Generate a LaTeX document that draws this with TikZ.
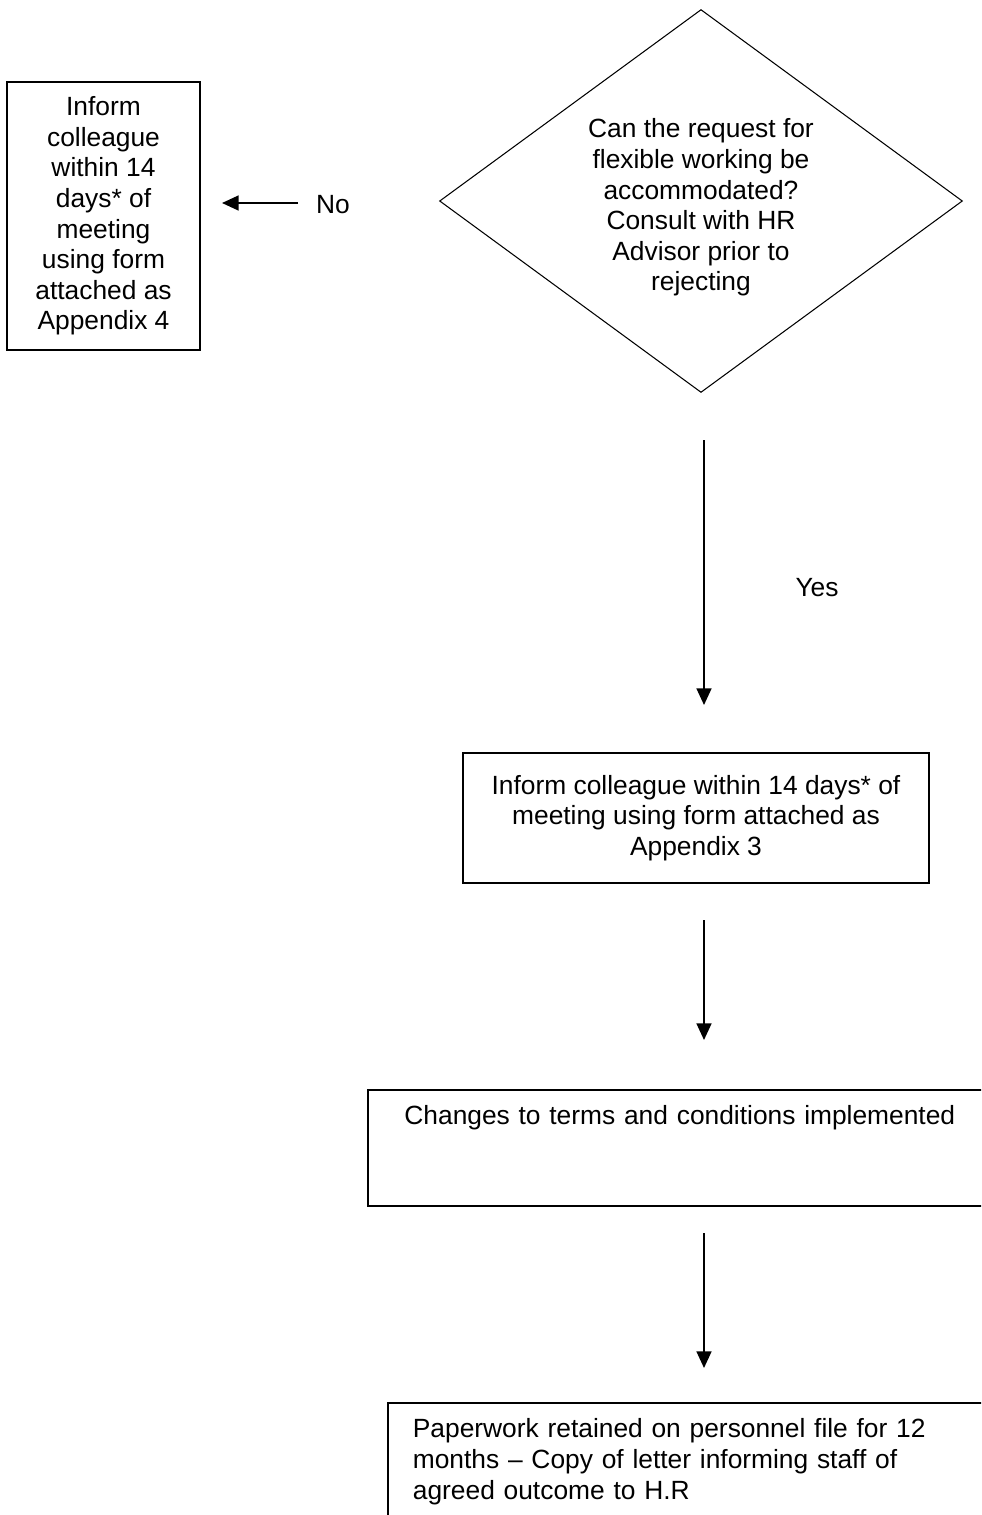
\documentclass[tikz,border=0pt]{standalone}
\usepackage{fontspec}
\setmainfont{Liberation Sans}
\usetikzlibrary{arrows.meta,shapes.geometric}
\begin{document}
\begin{tikzpicture}[x=0.02cm,y=-0.02cm,
  txt/.style={font=\fontsize{15}{17.4}\selectfont, align=center, inner sep=0pt},
  box/.style={txt, draw, line width=1pt},
  flow/.style={-{Triangle[length=9.5pt,width=8.5pt]}, line width=1.1pt}]
\path[use as bounding box, clip] (0,0) rectangle (981,1515);
\node[txt, draw, diamond, shape aspect=1.37, line width=0.6pt, minimum width=10.46cm, minimum height=7.66cm, text height=3.7cm] (q0) at (701,201) {Can the request for\\flexible working be\\accommodated?\\Consult with HR\\Advisor prior to\\rejecting};
\node[box, minimum width=3.86cm, minimum height=5.36cm] (no0) at (103.5,216) {Inform\\colleague\\within 14\\days* of\\meeting\\using form\\attached as\\Appendix 4};
\node[txt] (no1) at (333,205) {No};
\coordinate (a0) at (298,203);
\coordinate (a1) at (222,203);
\draw[flow](a0) -- (a1);
\coordinate (a2) at (704,440);
\coordinate (a3) at (704,705);
\draw[flow](a2) -- (a3);
\node[txt] (yes1) at (817,588) {Yes};
\node[box, minimum width=9.32cm, minimum height=2.6cm] (yes0) at (696,818) {Inform colleague within 14 days* of\\meeting using form attached as\\Appendix 3};
\coordinate (a4) at (704,920);
\coordinate (a5) at (704,1040);
\draw[flow](a4) -- (a5);
\node[box, anchor=north west, text width=12.48cm, inner ysep=0.32cm, text depth=1.3cm] (impl0) at (367,1089) {Changes to terms and conditions implemented};
\coordinate (a6) at (704,1233);
\coordinate (a7) at (704,1368);
\draw[flow](a6) -- (a7);
\node[box, anchor=north west, align=left, text width=12cm, inner xsep=0.5cm, inner ysep=0.32cm] (file0) at (387,1402) {Paperwork retained on personnel file for 12\\months -- Copy of letter informing staff of\\agreed outcome to H.R};
\end{tikzpicture}
\end{document}
